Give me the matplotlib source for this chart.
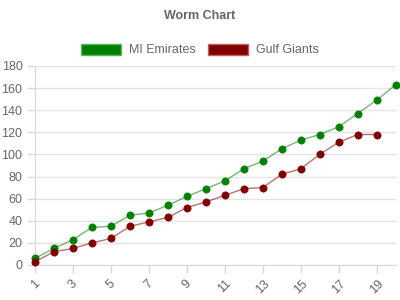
import matplotlib
matplotlib.use("Agg")
import matplotlib.pyplot as plt
from matplotlib.patches import Patch

overs = list(range(1, 21))
mi_emirates = [6, 15, 23, 34, 35, 45, 47, 54, 62, 69, 76, 87, 94, 105, 113, 118, 125, 137, 149, 163]
gulf_giants = [3, 12, 15, 20, 24, 35, 39, 43, 52, 57, 63, 69, 70, 82, 87, 100, 111, 118, 118]
series_names = ["MI Emirates", "Gulf Giants"]
xtick_labels = list(range(1, 20, 2))
yticks = list(range(0, 181, 20))

plt.rcParams['font.family'] = ['Liberation Sans', 'DejaVu Sans']
fig = plt.figure(figsize=(4, 3), dpi=100)
ax = fig.add_axes([0.0875, 0.1167, 0.9015, 0.6633])

green = '#008000'
red = '#800000'
ax.plot(overs, mi_emirates, color=green, alpha=0.55, lw=1, zorder=2)
ax.plot(overs[:len(gulf_giants)], gulf_giants, color=red, alpha=0.55, lw=1, zorder=2)
ax.plot(overs, mi_emirates, 'o', color=green, ms=5.2, mec=green, mew=0.5, zorder=3, clip_on=False)
ax.plot(overs[:len(gulf_giants)], gulf_giants, 'o', color=red, ms=5.2, mec=red, mew=0.5, zorder=3, clip_on=False)

ax.set_xlim(1, 20)
ax.set_ylim(0, 180)
ax.set_yticks(yticks)
ax.set_xticks(xtick_labels)
ax.set_xticklabels([str(v) for v in xtick_labels], rotation=45, ha='center', va='top')
ax.grid(axis='y', color='#e4e4e4', lw=1)
ax.set_axisbelow(True)
for s in ['top', 'right']:
    ax.spines[s].set_visible(False)
for s in ['left', 'bottom']:
    ax.spines[s].set_color('#d8d8d8')
ax.tick_params(axis='both', colors='#d8d8d8', labelcolor='#666666', labelsize=9, length=6, width=1)
ax.tick_params(axis='y', pad=3)
ax.tick_params(axis='x', pad=3)

fig.text(0.5, 1 - 16/300, 'Worm Chart', ha='center', va='center', fontsize=9, fontweight='bold', color='#666666')

handles = [Patch(facecolor=green, edgecolor='#5cb85c', lw=1),
           Patch(facecolor=red, edgecolor='#c06060', lw=1)]
fig.legend(handles, series_names, loc='center', bbox_to_anchor=(0.5, 1 - 50/300), ncol=2, frameon=False,
           fontsize=9, labelcolor='#666666', handlelength=3.2, handleheight=1.0, handletextpad=0.6,
           columnspacing=1.0)

fig.savefig('out.png', dpi=100)
